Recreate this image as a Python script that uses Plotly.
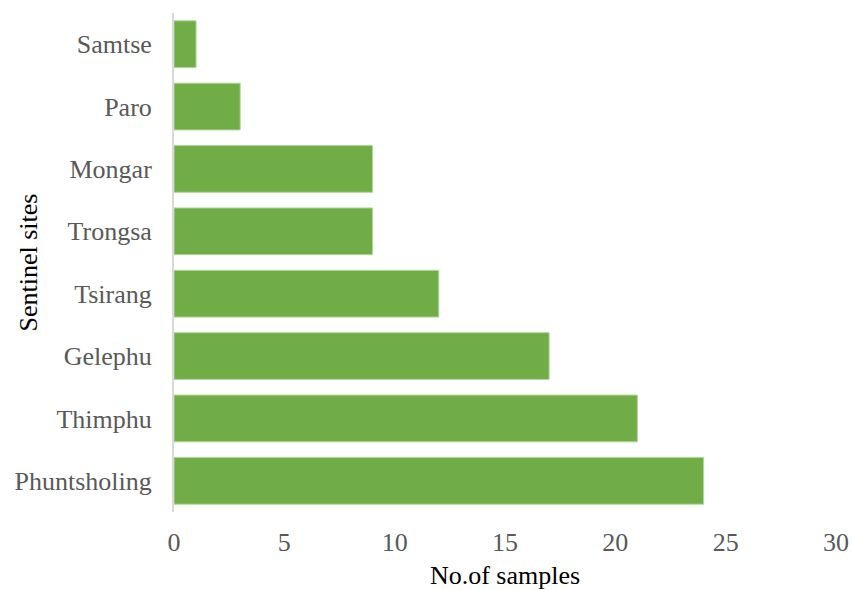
import plotly.graph_objects as go

sites = ["Samtse", "Paro", "Mongar", "Trongsa", "Tsirang", "Gelephu", "Thimphu", "Phuntsholing"]
samples = [1, 3, 9, 9, 12, 17, 21, 24]
x_ticks = [0, 5, 10, 15, 20, 25, 30]

font_family = "Liberation Serif, Times New Roman, serif"

fig = go.Figure(go.Bar(
    x=samples,
    y=sites,
    orientation="h",
    marker=dict(color="#70AD47", line=dict(color="#B4D79C", width=1)),
))

fig.update_layout(
    width=852, height=590,
    margin=dict(l=174, r=16, t=13, b=78),
    paper_bgcolor="white", plot_bgcolor="white",
    bargap=0.25,
    showlegend=False,
    font=dict(family=font_family, size=26, color="#595959"),
    xaxis=dict(
        range=[0, 30], tickvals=x_ticks, showgrid=False, zeroline=False,
        showline=False, ticks="", ticklabelstandoff=12, automargin=False,
        title=dict(text="No.of samples", font=dict(color="black", size=26), standoff=10),
        tickfont=dict(size=26, color="#595959"),
    ),
    yaxis=dict(
        categoryorder="array", categoryarray=sites, autorange="reversed",
        showgrid=False, zeroline=False, showline=True, linecolor="#D9D9D9", linewidth=2,
        ticks="", ticklabelstandoff=15, automargin=False,
        tickfont=dict(size=26, color="#595959"),
    ),
    annotations=[dict(
        text="Sentinel sites", textangle=-90,
        xref="paper", yref="paper", x=(28 - 174) / 662, y=0.5,
        xanchor="center", yanchor="middle", showarrow=False,
        font=dict(family=font_family, size=26, color="black"),
    )],
)

fig.write_html(
    "out.html",
    config={"displayModeBar": False},
    post_script="document.body.style.margin='0';document.body.style.overflow='hidden';",
)
